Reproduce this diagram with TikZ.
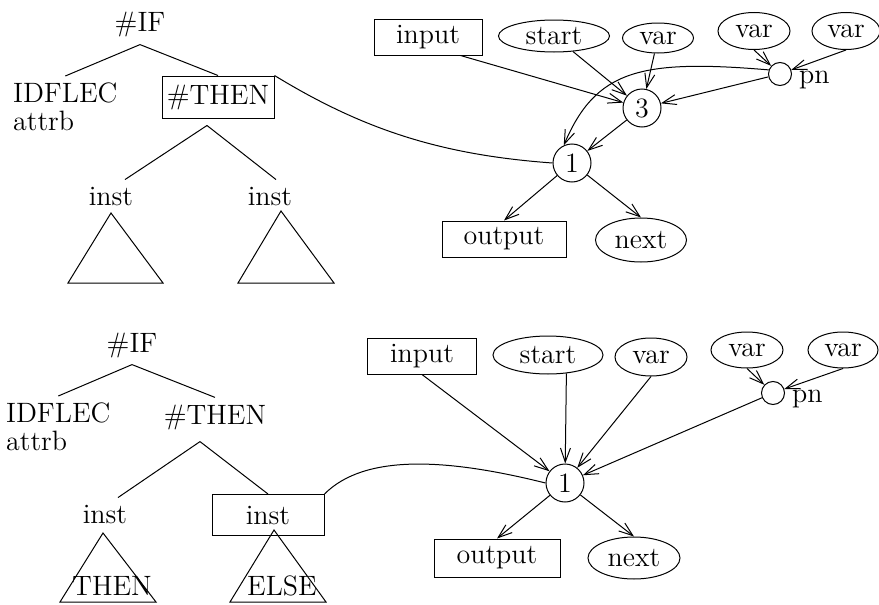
\documentclass[tikz,border=0pt]{standalone}
\usetikzlibrary{arrows.meta,shapes.geometric}
\begin{document}
\begin{tikzpicture}[
  x=0.5pt,y=-0.5pt,line width=.5pt,
  font=\fontsize{14}{14}\selectfont,
  word/.style={anchor=base},
  box/.style={draw,inner sep=0pt},
  oval/.style={draw,ellipse,inner sep=0pt},
  op/.style={draw,circle,inner sep=0pt,minimum size=19pt},
  pnode/.style={draw,circle,inner sep=0pt,minimum size=11.5pt,label={[yshift=-3pt]east:pn}},
  arr/.style={-{Straight Barb[length=7pt,width=5pt]}}
]
\useasboundingbox (0,0) rectangle (879,605);
\node[word] (ifa) at (140,32) {\#IF};
\node[align=left,anchor=north west] (idfa) at (6,76) {IDFLEC\\attrb};
\node[box,minimum width=56pt,minimum height=21pt] (thena) at (218,97) {\#THEN};
\node[word] (insta1) at (111,205) {inst};
\node[word] (insta2) at (270,205) {inst};
\coordinate (forka) at ([xshift=-5.5pt,yshift=-3.5pt]thena.south);
\draw (ifa.south) -- (idfa.north);
\draw (ifa.south) -- (thena.north);
\draw (forka) -- ([xshift=7pt]insta1.north);
\draw (forka) -- ([xshift=3pt]insta2.north);
\draw (111,213) -- (163,283) -- (68,283) -- cycle;
\draw (281,211) -- (334,283) -- (238,283) -- cycle;
\node[box,minimum width=54pt,minimum height=18pt] (in1) at (428,37) {input};
\node[oval,minimum width=55.5pt,minimum height=16pt] (st1) at (554,36) {start};
\node[oval,minimum width=35.5pt,minimum height=15pt] (va1) at (658,38) {var};
\node[oval,minimum width=36pt,minimum height=18.5pt] (vb1) at (754,31) {var};
\node[oval,minimum width=34pt,minimum height=18.5pt] (vc1) at (846,31) {var};
\node[pnode] (pn1) at (780,74) {};
\node[op] (three) at (642,108) {3};
\node[op] (one1) at (572,163) {1};
\node[box,minimum width=62pt,minimum height=18pt] (out1) at (504,239) {output};
\node[oval,minimum width=45.5pt,minimum height=22pt] (nx1) at (641,240) {next};
\draw[arr] ([xshift=-11pt]in1.south east) -- (three);
\draw[arr] (st1) -- (three);
\draw[arr] (va1) -- (three);
\draw[arr] (pn1) -- (three);
\draw[arr] (vb1.south) -- (pn1);
\draw[arr] (vc1.south) -- (pn1);
\draw[arr] (three) -- (one1);
\draw[arr] (pn1.160) .. controls +(-129,-11) and +(32,-75) .. (one1.115);
\draw[arr] (one1) -- (out1.north);
\draw[arr] (one1) -- (nx1.north);
\draw (thena.north east) .. controls +(90,55) and +(-110,-8) .. (one1.west);
\node[word] (ifb) at (132,352) {\#IF};
\node[align=left,anchor=north west] (idfb) at (-1,396) {IDFLEC\\attrb};
\node[word] (thenb) at (215,424) {\#THEN};
\node[word] (instb1) at (105,523) {inst};
\node[box,minimum width=56pt,minimum height=20.5pt] (instb2) at (268,515) {inst};
\coordinate (forkb) at ([xshift=-7.5pt,yshift=-2.5pt]thenb.south);
\draw (ifb.south) -- (idfb.north);
\draw (ifb.south) -- (thenb.north);
\draw (forkb) -- ([xshift=6.5pt]instb1.north);
\draw (forkb) -- (instb2.north);
\draw (103,533) -- (156,602) -- (60,602) -- cycle;
\draw (274,530) -- (326,602) -- (230,602) -- cycle;
\node[word] (thtxt) at (112,595) {THEN};
\node[word] (eltxt) at (282,595) {ELSE};
\node[box,minimum width=54.5pt,minimum height=18pt] (in2) at (422,356) {input};
\node[oval,minimum width=55pt,minimum height=19pt] (st2) at (548,355) {start};
\node[oval,minimum width=36pt,minimum height=19pt] (va2) at (651,357) {var};
\node[oval,minimum width=36pt,minimum height=18pt] (vb2) at (747,350) {var};
\node[oval,minimum width=35pt,minimum height=18pt] (vc2) at (843,350) {var};
\node[pnode] (pn2) at (773,393) {};
\node[op] (one2) at (565,483) {1};
\node[box,minimum width=63pt,minimum height=19pt] (out2) at (497,558) {output};
\node[oval,minimum width=46pt,minimum height=21pt] (nx2) at (634,558) {next};
\draw[arr] (in2.south) -- (one2);
\draw[arr] (st2.-45) -- (one2);
\draw[arr] (va2.south) -- (one2);
\draw[arr] (pn2) -- (one2);
\draw[arr] (vb2.south) -- (pn2);
\draw[arr] (vc2.south) -- (pn2);
\draw[arr] (one2) -- (out2.north);
\draw[arr] (one2) -- (nx2.north);
\draw (instb2.north east) .. controls +(40,-40) and +(-100,-25) .. (one2.west);
\end{tikzpicture}
\end{document}
